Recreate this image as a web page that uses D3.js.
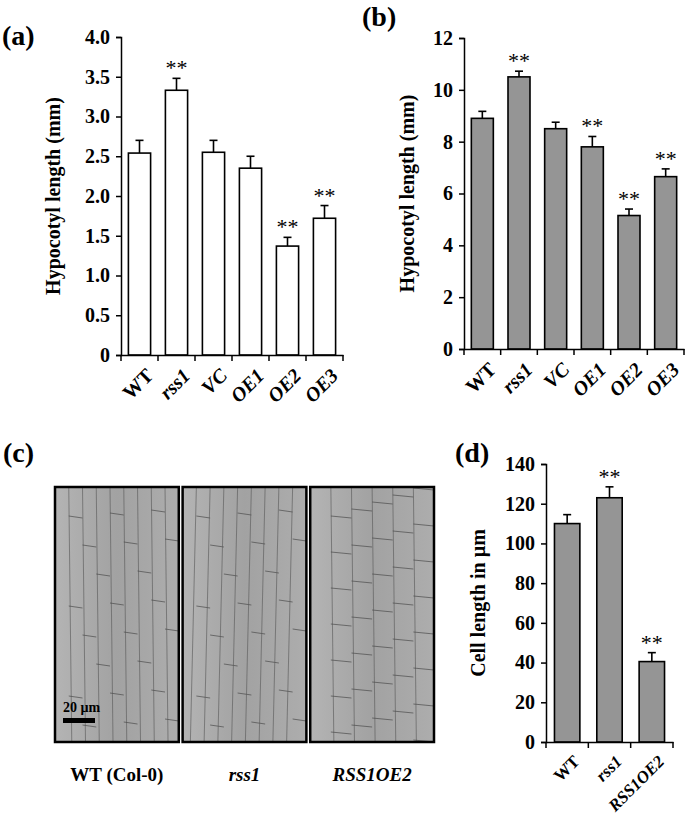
<!DOCTYPE html>
<html><head><meta charset="utf-8">
<script src="https://cdn.jsdelivr.net/npm/d3@7"></script>
<style>body{margin:0;background:#fff}svg text{font-family:"Liberation Serif","Times New Roman",serif !important;font-weight:bold}</style>
</head><body><svg id="fig" width="685" height="822"></svg>
<script>
var groupsAB = ["WT", "rss1", "VC", "OE1", "OE2", "OE3"];
var italicAB = [false, true, true, true, true, true];
var valuesA = [2.54, 3.33, 2.55, 2.35, 1.37, 1.72];
var errorsA = [0.16, 0.15, 0.15, 0.15, 0.11, 0.16];
var starsA = [false, true, false, false, true, true];
var valuesB = [8.9, 10.5, 8.5, 7.8, 5.15, 6.65];
var errorsB = [0.27, 0.22, 0.25, 0.4, 0.25, 0.3];
var starsB = [false, true, false, true, true, true];
var groupsD = ["WT", "rss1", "RSS1OE2"];
var italicD = [false, true, true];
var valuesD = [110, 123, 40.5];
var errorsD = [4.5, 5.5, 4.5];
var starsD = [false, true, true];
var photoLabels = ["WT (Col-0)", "rss1", "RSS1OE2"];

var svg = d3.select("#fig");

function barChart(o){
  var g = svg.append("g");
  var x = d3.scaleBand().domain(o.groups).range([o.x0, o.x1]).paddingInner(0.4).paddingOuter(0.2);
  var y = d3.scaleLinear().domain([0, o.max]).range([o.y0, o.y1]);
  var yAx = g.append("g").attr("transform", "translate(" + o.x0 + ",0)")
    .call(d3.axisLeft(y).tickValues(o.ticks).tickFormat(o.fmt).tickSize(5));
  yAx.selectAll("text").style("font-size", "20px").attr("dx", "-3");
  o.values.forEach(function(v, i){
    var cx = x(o.groups[i]) + x.bandwidth() / 2, top = y(v + o.errors[i]);
    g.append("line").attr("x1", cx).attr("x2", cx).attr("y1", y(v)).attr("y2", top).attr("stroke", "#000").attr("stroke-width", 1.6);
    g.append("line").attr("x1", cx - 4).attr("x2", cx + 4).attr("y1", top).attr("y2", top).attr("stroke", "#000").attr("stroke-width", 1.6);
    if (o.stars[i]) g.append("text").attr("x", cx).attr("y", top - 3).attr("text-anchor", "middle")
      .style("font-size", "22px").style("font-weight", "normal").text("**");
  });
  g.selectAll(".bar").data(o.values).enter().append("rect")
    .attr("x", (d, i) => x(o.groups[i])).attr("width", x.bandwidth())
    .attr("y", d => y(d)).attr("height", d => y(0) - y(d))
    .attr("fill", o.fill).attr("stroke", "#000").attr("stroke-width", 1.6);
  g.append("g").attr("transform", "translate(0," + o.y0 + ")")
    .call(d3.axisBottom(x).tickSize(0).tickFormat(""));
  var step = x.step();
  d3.range(o.groups.length + 1).forEach(function(k){
    var tx = o.x0 + k * step;
    g.append("line").attr("x1", tx).attr("x2", tx).attr("y1", o.y0).attr("y2", o.y0 + 6).attr("stroke", "#000").attr("stroke-width", 1.5);
  });
  g.selectAll("path.domain, .tick line").attr("stroke", "#000").attr("stroke-width", 1.5);
  o.groups.forEach(function(n, i){
    var cx = x(n) + x.bandwidth() / 2 + 5;
    g.append("text").attr("transform", "translate(" + cx + "," + (o.y0 + 12) + ") rotate(-45)")
      .attr("text-anchor", "end").attr("dy", "0.7em").style("font-size", o.labelSize)
      .style("font-style", o.italic[i] ? "italic" : "normal").text(n);
  });
  g.append("text").attr("transform", "translate(" + o.titleX + "," + ((o.y0 + o.y1) / 2) + ") rotate(-90)")
    .attr("text-anchor", "middle").style("font-size", "20px").text(o.title);
}

barChart({groups: groupsAB, italic: italicAB, values: valuesA, errors: errorsA, stars: starsA,
  x0: 121, x1: 343, y0: 355, y1: 37, max: 4, ticks: d3.range(0, 4.01, 0.5), labelSize: "20px",
  fmt: d => d === 0 ? "0" : d3.format(".1f")(d), fill: "#fff", title: "Hypocotyl length (mm)", titleX: 60});
barChart({groups: groupsAB, italic: italicAB, values: valuesB, errors: errorsB, stars: starsB,
  x0: 464, x1: 684, y0: 349, y1: 38, max: 12, ticks: d3.range(0, 13, 2), labelSize: "20px",
  fmt: d3.format("d"), fill: "#959595", title: "Hypocotyl length (mm)", titleX: 414});
barChart({groups: groupsD, italic: italicD, values: valuesD, errors: errorsD, stars: starsD,
  x0: 546, x1: 673, y0: 742, y1: 464, max: 140, ticks: d3.range(0, 141, 20), labelSize: "17px",
  fmt: d3.format("d"), fill: "#959595", title: "Cell length in µm", titleX: 485});

[["(a)", 2, 45], ["(b)", 362, 26], ["(c)", 3, 462], ["(d)", 455, 462]].forEach(function(p){
  svg.append("text").attr("x", p[1]).attr("y", p[2]).style("font-size", "28px").text(p[0]);
});

var defs = svg.append("defs");
var grad = defs.append("linearGradient").attr("id", "mg").attr("x1", 0).attr("x2", 1);
grad.append("stop").attr("offset", 0).attr("stop-color", "#b4b4b4");
grad.append("stop").attr("offset", 0.5).attr("stop-color", "#a2a2a2");
grad.append("stop").attr("offset", 1).attr("stop-color", "#adadad");
var px = d3.scaleBand().domain(photoLabels).range([55, 434]).paddingInner(0.03);
photoLabels.forEach(function(n, i){
  var x0 = px(n), w = px.bandwidth(), top = 487, bot = 742;
  var pg = svg.append("g");
  pg.append("rect").attr("x", x0).attr("y", top).attr("width", w).attr("height", bot - top).attr("fill", "url(#mg)");
  var cols = i === 2 ? 6 : 9, rowH = i === 2 ? 36 : 90;
  d3.range(1, cols).forEach(function(c){
    var lx = x0 + c * w / cols;
    pg.append("line").attr("x1", lx).attr("x2", lx + (i === 1 ? -6 : 3)).attr("y1", top).attr("y2", bot)
      .attr("stroke", "#5a5a5a").attr("stroke-width", 0.9).attr("opacity", 0.7);
    d3.range(top + ((c * 29) % rowH), bot, rowH).forEach(function(ry){
      pg.append("line").attr("x1", lx).attr("x2", lx + w / cols).attr("y1", ry).attr("y2", ry + 2)
        .attr("stroke", "#4d4d4d").attr("stroke-width", 1).attr("opacity", 0.7);
    });
  });
  pg.append("rect").attr("x", x0).attr("y", top).attr("width", w).attr("height", bot - top)
    .attr("fill", "none").attr("stroke", "#000").attr("stroke-width", 2.5);
  svg.append("text").attr("x", x0 + w / 2).attr("y", 781).attr("text-anchor", "middle")
    .style("font-size", "19px").style("font-style", i ? "italic" : "normal").text(n);
});
svg.append("rect").attr("x", 63).attr("y", 718).attr("width", 32).attr("height", 5).attr("fill", "#000");
svg.append("text").attr("x", 63).attr("y", 712).style("font-size", "14px").text("20 µm");
</script></body></html>
